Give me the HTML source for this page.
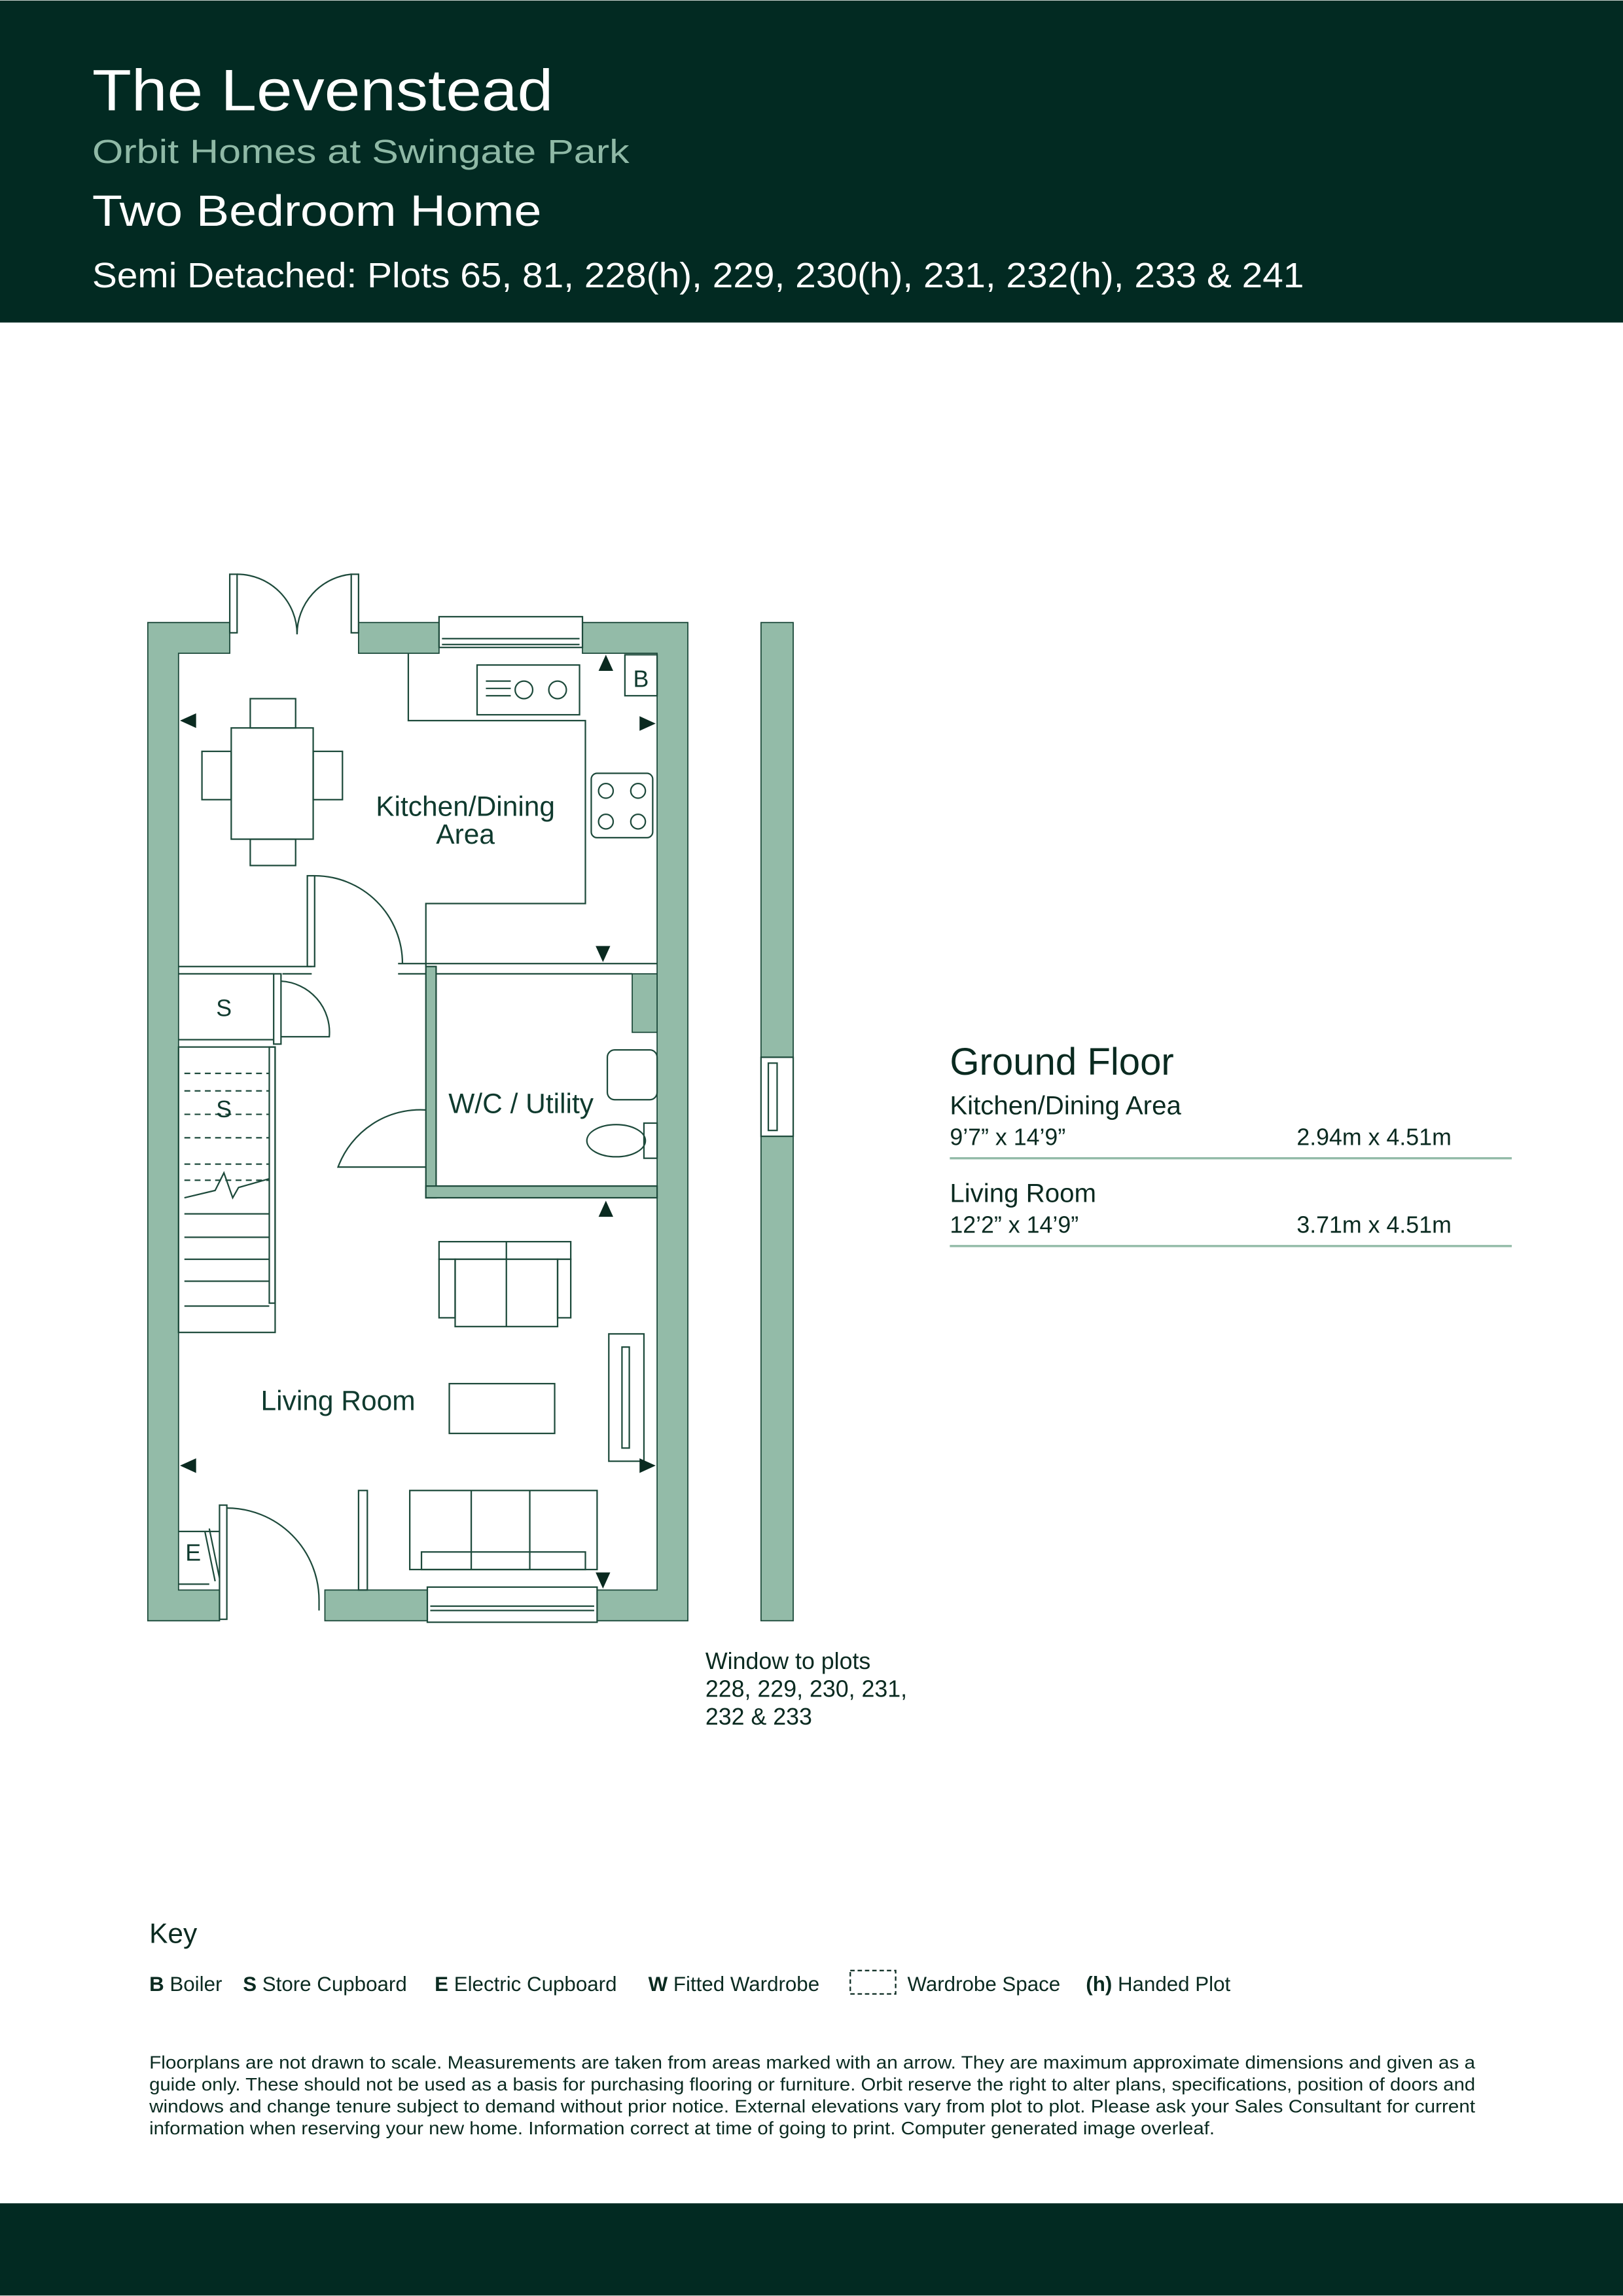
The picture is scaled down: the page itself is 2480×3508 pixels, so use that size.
<!DOCTYPE html>
<html><head><meta charset="utf-8"><style>
html,body{margin:0;padding:0;background:#fff}
svg{display:block}
text{font-family:"Liberation Sans",sans-serif}
</style></head><body>
<svg width="2480" height="3508" viewBox="0 0 1109 1568" xmlns="http://www.w3.org/2000/svg">
<rect x="0" y="0" width="1109" height="220" fill="#022a22"/>
<text x="63" y="75" font-size="40" fill="#fff" textLength="315" lengthAdjust="spacingAndGlyphs">The Levenstead</text>
<text x="63" y="111" font-size="23" fill="#8fb9a6" textLength="367" lengthAdjust="spacingAndGlyphs">Orbit Homes at Swingate Park</text>
<text x="63" y="154" font-size="30" fill="#fff" textLength="307" lengthAdjust="spacingAndGlyphs">Two Bedroom Home</text>
<text x="63" y="196" font-size="24" fill="#fff" textLength="828" lengthAdjust="spacingAndGlyphs">Semi Detached: Plots 65, 81, 228(h), 229, 230(h), 231, 232(h), 233 &amp; 241</text>
<rect x="0" y="1505" width="1109" height="63" fill="#022a22"/>

<g fill="#93bba8" stroke="#1d4a3b" stroke-width="0.8">
<path d="M101 425 H157 V446 H122 V1086 H150 V1107 H101 Z"/>
<rect x="245" y="425" width="55" height="21"/>
<path d="M398 425 H470 V1107 H408 V1086 H449 V446 H398 Z"/>
<rect x="222" y="1086" width="70" height="21"/>
<rect x="520" y="425" width="22" height="297"/>
<rect x="520" y="776" width="22" height="331"/>
<rect x="432" y="665" width="17" height="40"/>
</g>
<g fill="none" stroke="#1d4a3b" stroke-width="1">
<rect x="300" y="421" width="98" height="21"/><line x1="302" y1="436" x2="396" y2="436"/><line x1="302" y1="440" x2="396" y2="440"/>
<rect x="292" y="1084" width="116" height="24"/><line x1="294" y1="1097" x2="406" y2="1097"/><line x1="294" y1="1100" x2="406" y2="1100"/>
<rect x="520" y="722" width="22" height="54"/><rect x="525" y="726" width="6" height="46"/>
<rect x="157" y="392" width="5" height="40"/><rect x="240" y="392" width="5" height="40"/>
<path d="M162 392 A41 41 0 0 1 203 433"/><path d="M240 392 A41 41 0 0 0 203 433"/>
<path d="M279 446 V492 H400 V617 H291 V660"/>
<rect x="326" y="454" width="70" height="34"/><circle cx="358" cy="471" r="6"/><circle cx="381" cy="471" r="6"/>
<line x1="332" y1="465" x2="349" y2="465"/><line x1="332" y1="470" x2="349" y2="470"/><line x1="332" y1="475" x2="349" y2="475"/>
<rect x="427" y="447" width="22" height="28"/>
<rect x="404" y="528" width="42" height="44" rx="4"/>
<circle cx="414" cy="540" r="5"/><circle cx="436" cy="540" r="5"/><circle cx="414" cy="561" r="5"/><circle cx="436" cy="561" r="5"/>
<rect x="158" y="497" width="56" height="76"/><rect x="171" y="477" width="31" height="20"/><rect x="171" y="573" width="31" height="18"/>
<rect x="138" y="513" width="20" height="33"/><rect x="214" y="513" width="20" height="33"/>
<path d="M122 660 H213 M122 665 H187 M193 665 H213"/>
<path d="M272 658 H449 M272 665 H291 M298 665 H432"/>
<rect x="210" y="598" width="5" height="62"/><path d="M215 598 A60 60 0 0 1 275 658"/>
<rect x="291" y="660" width="7" height="158" fill="#93bba8"/>
<rect x="291" y="810" width="158" height="8" fill="#93bba8"/>
<path d="M291 758 A60 60 0 0 0 231 797 H291"/>
<path d="M122 710 H187"/><rect x="187" y="665" width="5" height="48"/>
<path d="M192 670 A35 35 0 0 1 225 708 H192"/>
<rect x="122" y="715" width="66" height="195"/><rect x="184" y="715" width="4" height="175"/>
<g stroke-dasharray="4 3"><line x1="126" y1="733" x2="184" y2="733"/><line x1="126" y1="745" x2="184" y2="745"/><line x1="126" y1="761" x2="184" y2="761"/><line x1="126" y1="777" x2="184" y2="777"/><line x1="126" y1="795" x2="184" y2="795"/><line x1="126" y1="806" x2="184" y2="806"/></g>
<path d="M126 818 L147 813 L153 801 L159 818 L163 811 L184 805"/>
<line x1="126" y1="829" x2="184" y2="829"/><line x1="126" y1="845" x2="184" y2="845"/><line x1="126" y1="860" x2="184" y2="860"/><line x1="126" y1="875" x2="184" y2="875"/><line x1="126" y1="892" x2="184" y2="892"/>
<rect x="415" y="717" width="34" height="34" rx="5"/><rect x="440" y="767" width="9" height="24"/>
<ellipse cx="421" cy="779" rx="20" ry="11"/>
<rect x="300" y="848" width="90" height="12"/><rect x="311" y="860" width="70" height="46"/><line x1="346" y1="848" x2="346" y2="906"/><rect x="300" y="860" width="11" height="40"/><rect x="381" y="860" width="9" height="40"/>
<rect x="307" y="945" width="72" height="34"/>
<rect x="416" y="911" width="24" height="87"/><rect x="425" y="920" width="5" height="69"/>
<rect x="280" y="1018" width="128" height="54"/><line x1="322" y1="1018" x2="322" y2="1072"/><line x1="362" y1="1018" x2="362" y2="1072"/><rect x="288" y="1060" width="112" height="12"/>
<rect x="245" y="1018" width="6" height="68"/>
<rect x="150" y="1028" width="5" height="78"/><path d="M155 1030 A63 63 0 0 1 218 1093 V1100"/>
<path d="M122 1046 H150 M140 1046 L147 1080 M143 1044 L150 1078"/><line x1="122" y1="1082" x2="143" y2="1082"/>
</g>
<g fill="#0a2a20">
<path d="M123 492 L134 487 L134 497Z"/><path d="M448 494 L437 489 L437 499Z"/>
<path d="M414 447 L409 458 L419 458Z"/><path d="M412 657 L407 646 L417 646Z"/>
<path d="M414 820 L409 831 L419 831Z"/><path d="M123 1001 L134 996 L134 1006Z"/>
<path d="M448 1001 L437 996 L437 1006Z"/><path d="M412 1085 L407 1074 L417 1074Z"/>
</g>
<g fill="#0f3a2e" font-size="19">
<text x="318" y="557" text-anchor="middle">Kitchen/Dining</text>
<text x="318" y="576" text-anchor="middle">Area</text>
<text x="356" y="760" text-anchor="middle">W/C / Utility</text>
<text x="231" y="963" text-anchor="middle">Living Room</text>
<text x="153" y="694" text-anchor="middle" font-size="16">S</text>
<text x="153" y="763" text-anchor="middle" font-size="16">S</text>
<text x="438" y="469" text-anchor="middle" font-size="16">B</text>
<text x="132" y="1066" text-anchor="middle" font-size="16">E</text>
</g>
<g fill="#0a2a20">
<text x="649" y="734" font-size="26">Ground Floor</text>
<text x="649" y="761" font-size="18">Kitchen/Dining Area</text>
<text x="649" y="782" font-size="16">9’7” x 14’9”</text><text x="886" y="782" font-size="16">2.94m x 4.51m</text>
<text x="649" y="821" font-size="18">Living Room</text>
<text x="649" y="842" font-size="16">12’2” x 14’9”</text><text x="886" y="842" font-size="16">3.71m x 4.51m</text>
<text x="482" y="1140" font-size="16">Window to plots</text>
<text x="482" y="1159" font-size="16">228, 229, 230, 231,</text>
<text x="482" y="1178" font-size="16">232 &amp; 233</text>
<text x="102" y="1327" font-size="19">Key</text>
<g font-size="14">
<text x="102" y="1360"><tspan font-weight="bold">B</tspan> Boiler</text>
<text x="166" y="1360"><tspan font-weight="bold">S</tspan> Store Cupboard</text>
<text x="297" y="1360"><tspan font-weight="bold">E</tspan> Electric Cupboard</text>
<text x="443" y="1360"><tspan font-weight="bold">W</tspan> Fitted Wardrobe</text>
<text x="620" y="1360">Wardrobe Space</text>
<text x="742" y="1360"><tspan font-weight="bold">(h)</tspan> Handed Plot</text>
</g>
<g font-size="12.6">
<text x="102" y="1413" textLength="906" lengthAdjust="spacingAndGlyphs">Floorplans are not drawn to scale. Measurements are taken from areas marked with an arrow. They are maximum approximate dimensions and given as a</text>
<text x="102" y="1428" textLength="906" lengthAdjust="spacingAndGlyphs">guide only. These should not be used as a basis for purchasing flooring or furniture. Orbit reserve the right to alter plans, specifications, position of doors and</text>
<text x="102" y="1443" textLength="906" lengthAdjust="spacingAndGlyphs">windows and change tenure subject to demand without prior notice. External elevations vary from plot to plot. Please ask your Sales Consultant for current</text>
<text x="102" y="1458" textLength="728" lengthAdjust="spacingAndGlyphs">information when reserving your new home. Information correct at time of going to print. Computer generated image overleaf.</text>
</g>
</g>
<rect x="581" y="1346" width="31" height="16" fill="none" stroke="#0a2a20" stroke-width="1" stroke-dasharray="3 2"/>
<line x1="649" y1="791" x2="1033" y2="791" stroke="#93bba8" stroke-width="1.5"/>
<line x1="649" y1="851" x2="1033" y2="851" stroke="#93bba8" stroke-width="1.5"/>
</svg>
</body></html>
